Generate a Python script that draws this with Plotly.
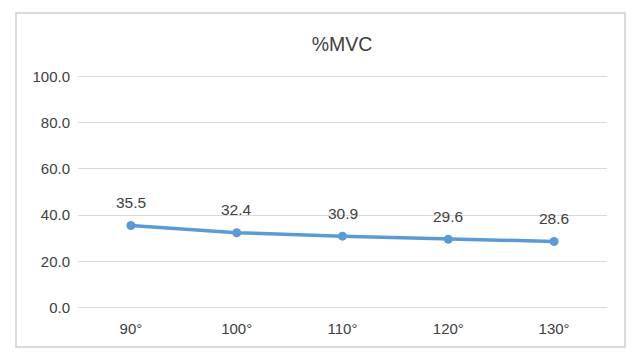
import plotly.graph_objects as go

categories = ["90°", "100°", "110°", "120°", "130°"]
values = [35.5, 32.4, 30.9, 29.6, 28.6]
y_ticks = [0, 20, 40, 60, 80, 100]
y_tick_labels = ["0.0", "20.0", "40.0", "60.0", "80.0", "100.0"]

font = "Liberation Sans, Arial, sans-serif"
W, H = 643, 364
L, R, T, B = 78, 643 - 607, 74, 54
pw, ph = W - L - R, H - T - B


def py(pixel_y):
    return (H - B - pixel_y) / ph


fig = go.Figure()
fig.add_trace(go.Scatter(
    x=categories, y=values, mode="lines+markers",
    line=dict(color="#5B9BD5", width=3.5),
    marker=dict(color="#5B9BD5", size=9),
    hoverinfo="skip", showlegend=False,
))

for c, v in zip(categories, values):
    fig.add_annotation(x=c, y=v, text=f"{v:.1f}", showarrow=False,
                       yshift=23, font=dict(family=font, size=15.5, color="#404040"))

fig.add_shape(type="rect", xref="paper", yref="paper",
              x0=(16 - L) / pw, x1=(625 - L) / pw,
              y0=py(347), y1=py(13),
              line=dict(color="#d0d0d0", width=1.5), layer="below")

fig.update_layout(
    width=W, height=H,
    margin=dict(l=L, r=R, t=T, b=B),
    paper_bgcolor="white", plot_bgcolor="white",
    title=dict(text="%MVC", x=342 / W, xanchor="center", y=1 - 44 / H, yanchor="middle",
               font=dict(family=font, size=19.5, color="#404040")),
    xaxis=dict(type="category", showgrid=False, zeroline=False, showline=False,
               ticks="", ticklabelstandoff=8,
               tickfont=dict(family=font, size=15, color="#404040"),
               range=[-0.5, 4.5]),
    yaxis=dict(range=[-1, 101], tickvals=y_ticks, ticktext=y_tick_labels,
               showgrid=True, gridcolor="#d9d9d9", gridwidth=1,
               zeroline=False, showline=False, ticks="", ticklabelstandoff=7,
               tickfont=dict(family=font, size=15, color="#404040")),
)

fig.write_html("out.html", config={"displayModeBar": False},
               post_script="document.body.style.margin='0';")
